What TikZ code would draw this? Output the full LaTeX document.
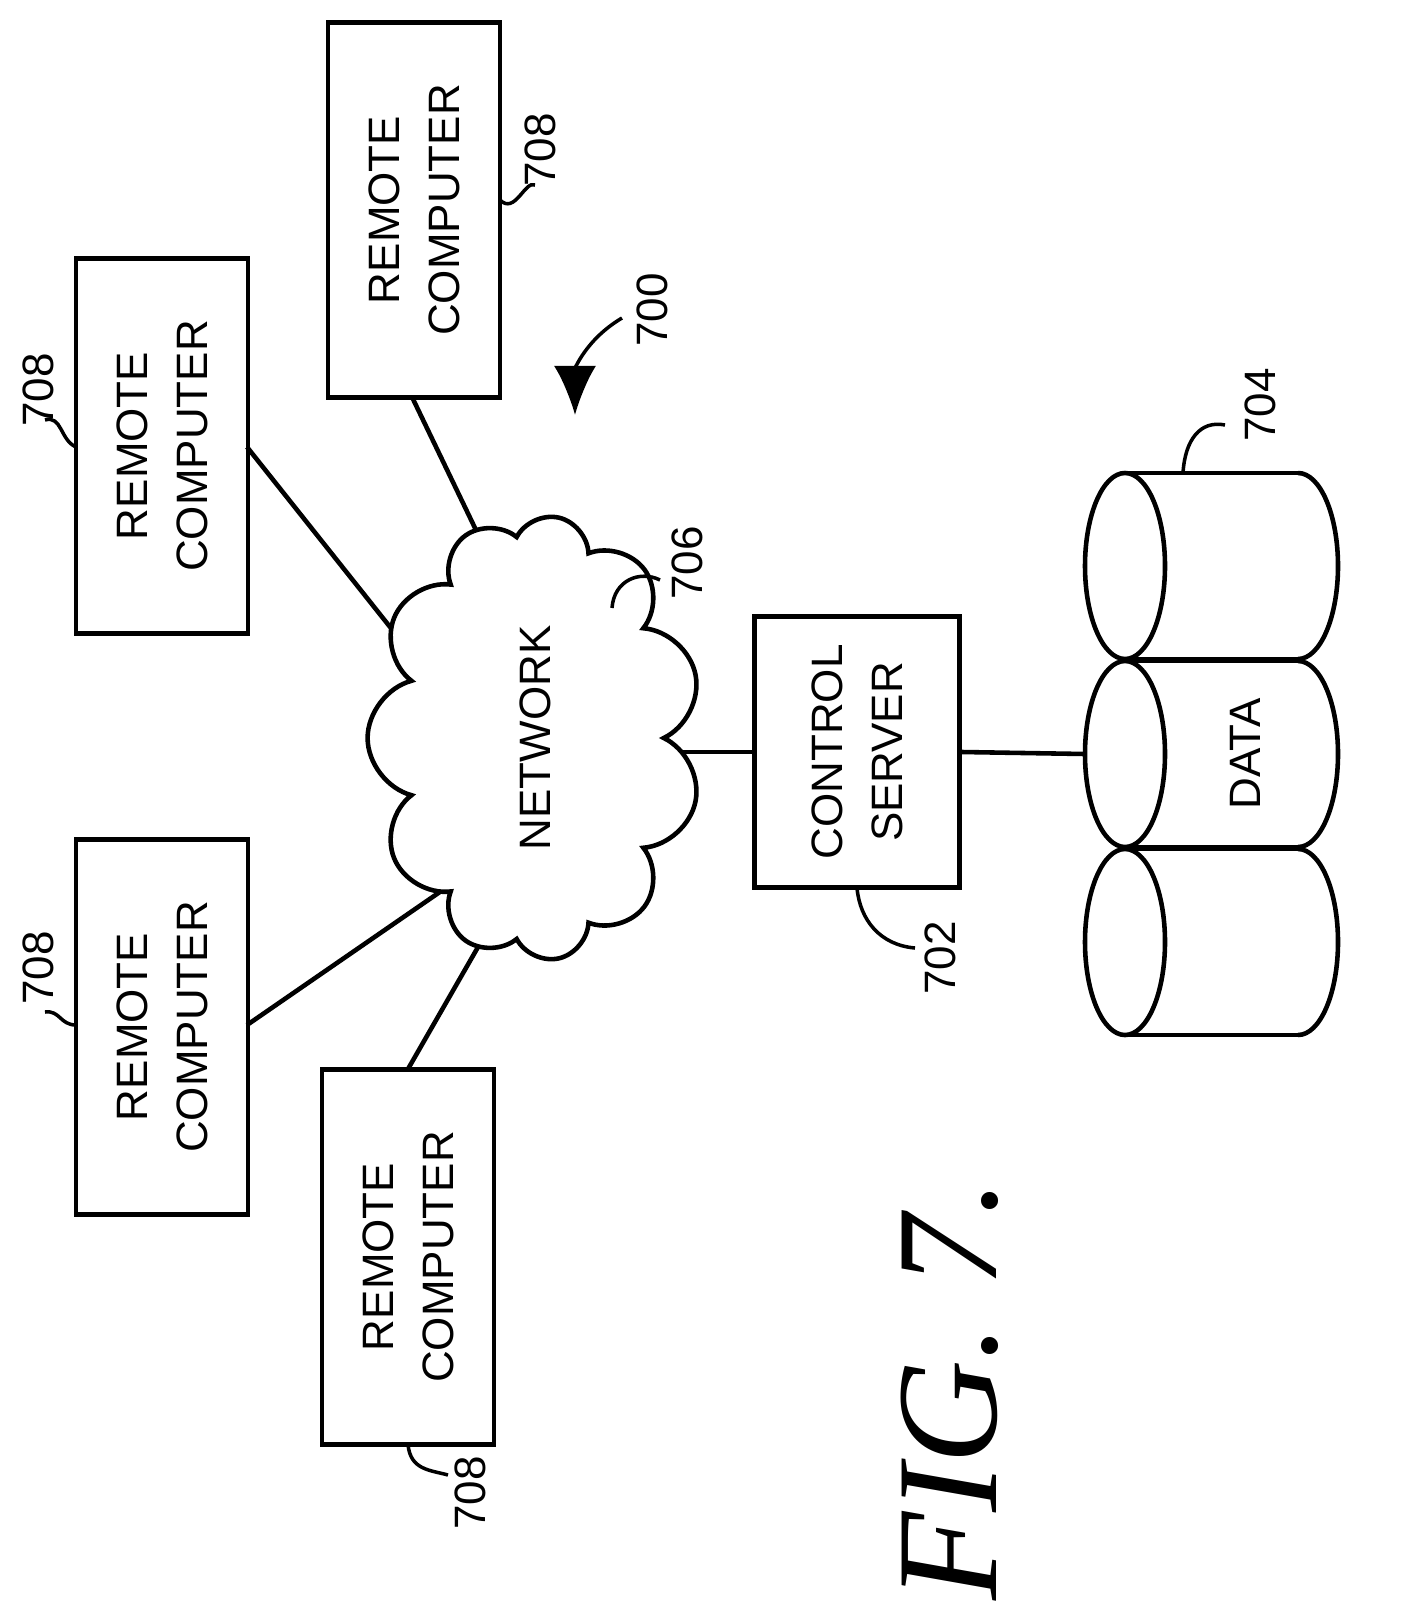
\documentclass[tikz,border=0pt]{standalone}
\usepackage{fontspec}
\setmainfont{Liberation Sans}
\newfontfamily\figfont{Liberation Serif}
\usetikzlibrary{shapes.symbols,arrows.meta}
\begin{document}
\begin{tikzpicture}[x=0.01cm,y=-0.01cm,line width=1.3pt,
    remote/.style={draw,rotate=90,minimum width=3.75cm,minimum height=1.72cm,align=center,font=\fontsize{12.5}{17}\selectfont},
    lbl/.style={rotate=90,font=\fontsize{12.5}{15}\selectfont}]

    \useasboundingbox (0,0) rectangle (1405,1618);

    % remote computers
    \node [remote] (rc1) at (414,210) {REMOTE\\COMPUTER};
    \node [remote] (rc2) at (162,446) {REMOTE\\COMPUTER};
    \node [remote] (rc3) at (162,1027) {REMOTE\\COMPUTER};
    \node [remote] (rc4) at (408,1257) {REMOTE\\COMPUTER};

    \node [draw,rotate=90,minimum width=2.71cm,minimum height=2.05cm,align=center,font=\fontsize{12.5}{17}\selectfont] (srv) at (857,752) {CONTROL\\SERVER};
    \coordinate (n1) at (500,580);
    \coordinate (n2) at (460,715);
    \coordinate (n3) at (450,885);
    \coordinate (n4) at (505,900);
    \coordinate (n5) at (650,752);

    % data store
    \foreach \yc in {566,754,942} {
        \draw (1125,\yc-93) -- (1298,\yc-93);
        \draw (1125,\yc+93) -- (1298,\yc+93);
        \draw (1298,\yc-93) arc (-90:90:40 and 93);
        \draw (1125,\yc) ellipse (40 and 93);
    }
    \coordinate (data) at (1085,754);
    \node [lbl] at (1245,754) {DATA};

    % connections
    \draw (412,397) coordinate (b1) -- (n1);
    \draw (247,447) coordinate (b2) -- (n2);
    \draw (247,1025) coordinate (b3) -- (n3);
    \draw (408,1069) coordinate (b4) -- (n4);
    \draw (n5) -- (srv.north);
    \draw (srv.south) -- (data);

    % network on top of the lines
    \node [draw,fill=white,cloud,cloud puffs=11,aspect=1.3,rotate=90,minimum width=4.45cm,minimum height=3.2cm,font=\fontsize{12.5}{15}\selectfont] (net) at (535,738) {NETWORK};

    % reference numerals
    \node [lbl] at (540,150) {708};
    \draw [line width=1pt] (500,200) .. controls (515,215) and (525,180) .. (535,185);
    \node [lbl] at (38,390) {708};
    \draw [line width=1pt] (76,447) .. controls (60,440) and (62,415) .. (45,420);
    \node [lbl] at (38,968) {708};
    \draw [line width=1pt] (76,1025) .. controls (60,1025) and (60,1010) .. (45,1012);
    \node [lbl] at (470,1493) {708};
    \draw [line width=1pt] (408,1444) .. controls (410,1470) and (430,1470) .. (448,1475);
    \node [lbl] at (652,310) {700};
    \draw [line width=1pt,-{Latex[length=14pt,width=12pt]}] (622,318) .. controls (585,340) and (575,370) .. (575,415);
    \node [lbl] at (687,563) {706};
    \draw [line width=1pt] (612,608) .. controls (614,580) and (640,570) .. (660,580);
    \node [lbl] at (940,958) {702};
    \draw [line width=1pt] (857,888) .. controls (860,920) and (880,945) .. (915,948);
    \node [lbl] at (1260,405) {704};
    \draw [line width=1pt] (1183,473) .. controls (1185,440) and (1200,420) .. (1225,425);

    \node [rotate=90,font=\figfont\itshape\fontsize{41}{48}\selectfont] at (950,1390) {FIG. 7.};
\end{tikzpicture}
\end{document}
